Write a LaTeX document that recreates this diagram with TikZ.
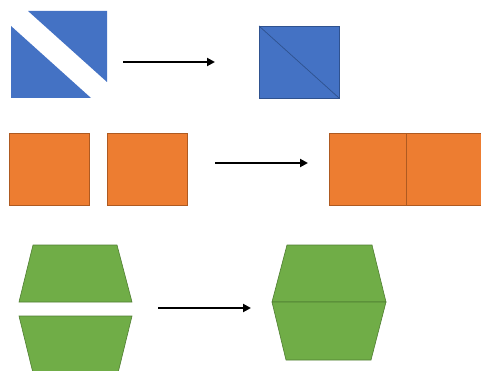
\documentclass[tikz,border=0pt]{standalone}
\usetikzlibrary{arrows.meta}
\definecolor{bfill}{HTML}{4472C4}\definecolor{bline}{HTML}{2F528F}
\definecolor{ofill}{HTML}{ED7D31}\definecolor{oline}{HTML}{AE5A21}
\definecolor{gfill}{HTML}{70AD47}\definecolor{gline}{HTML}{507E32}
\begin{document}
\begin{tikzpicture}[x=1pt,y=-1pt,
  bshape/.style={fill=bfill,draw=bline,line width=0.6pt,line join=miter},
  oshape/.style={fill=ofill,draw=oline,line width=0.6pt},
  gshape/.style={fill=gfill,draw=gline,line width=0.6pt},
  conn/.style={line width=2pt,-{Triangle[length=8pt,width=8pt]}}]
\useasboundingbox (0,0) rectangle (481,371);
\clip (0,0) rectangle (481,371);
% row 1
\fill[bfill] (28,11) -- (107,11) -- (107,82) -- cycle;
\fill[bfill] (11,26) -- (11,98) -- (91,98) -- cycle;
\draw[bshape] (259,26) rectangle (339,98);
\draw[bline,line width=0.7pt] (259,26) -- (339,98);
\coordinate (a1s) at (123,62); \coordinate (a1e) at (215,62);
\draw[conn] (a1s) -- (a1e);
% row 2
\draw[oshape] (9,133) rectangle (89,205);
\draw[oshape] (107,133) rectangle (187,205);
\draw[oshape] (329,133) rectangle (406,205);
\draw[oshape] (406,133) rectangle (484,205);
\coordinate (a2s) at (215,163); \coordinate (a2e) at (308,163);
\draw[conn] (a2s) -- (a2e);
% row 3
\draw[gshape] (33,245) -- (117,245) -- (132,302) -- (19,302) -- cycle;
\draw[gshape] (19,316) -- (132,316) -- (118,373) -- (33,373) -- cycle;
\draw[gshape] (287,245) -- (372,245) -- (386,302) -- (272,302) -- cycle;
\draw[gshape] (272,302) -- (386,302) -- (371,360) -- (286,360) -- cycle;
\coordinate (a3s) at (158,308); \coordinate (a3e) at (251,308);
\draw[conn] (a3s) -- (a3e);
\end{tikzpicture}
\end{document}
